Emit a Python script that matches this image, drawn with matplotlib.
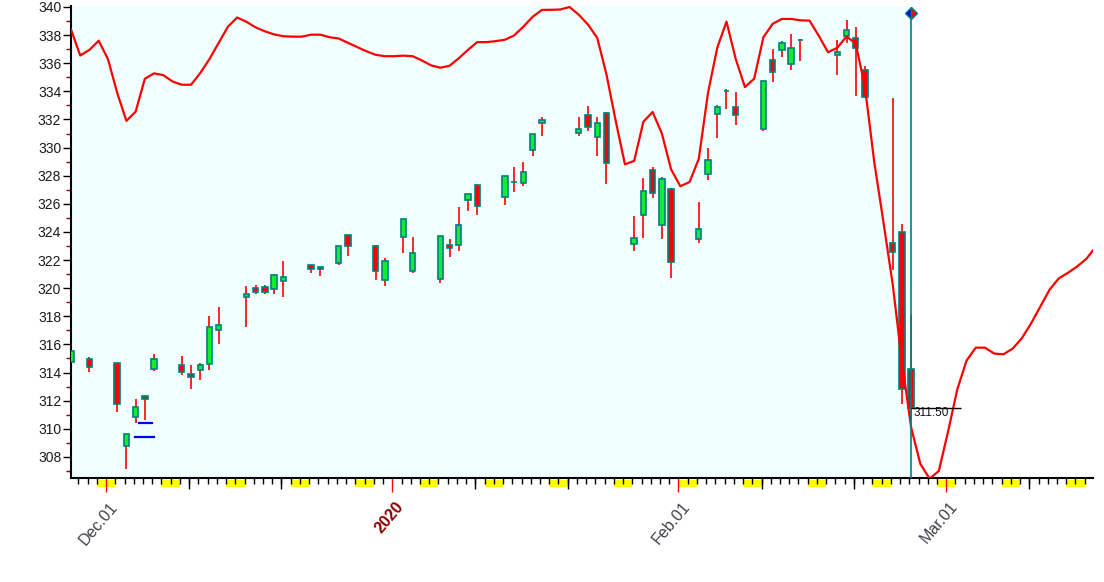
import matplotlib
matplotlib.use("Agg")
import matplotlib.pyplot as plt
import matplotlib.dates as mdates
import matplotlib.transforms as mtransforms
from matplotlib.patches import Rectangle
import pandas as pd

# daily candles
dates = ["2019-11-27", "2019-11-29", "2019-12-02", "2019-12-03", "2019-12-04", "2019-12-05",
         "2019-12-06", "2019-12-09", "2019-12-10", "2019-12-11", "2019-12-12", "2019-12-13",
         "2019-12-16", "2019-12-17", "2019-12-18", "2019-12-19", "2019-12-20", "2019-12-23",
         "2019-12-24", "2019-12-26", "2019-12-27", "2019-12-30", "2019-12-31", "2020-01-02",
         "2020-01-03", "2020-01-06", "2020-01-07", "2020-01-08", "2020-01-09", "2020-01-10",
         "2020-01-13", "2020-01-14", "2020-01-15", "2020-01-16", "2020-01-17", "2020-01-21",
         "2020-01-22", "2020-01-23", "2020-01-24", "2020-01-27", "2020-01-28", "2020-01-29",
         "2020-01-30", "2020-01-31", "2020-02-03", "2020-02-04", "2020-02-05", "2020-02-06",
         "2020-02-07", "2020-02-10", "2020-02-11", "2020-02-12", "2020-02-13", "2020-02-14",
         "2020-02-18", "2020-02-19", "2020-02-20", "2020-02-21", "2020-02-24", "2020-02-25",
         "2020-02-26"]
opens = [314.73, 314.96, 314.66, 308.80, 310.82, 312.33, 314.23, 314.51, 313.87, 314.16, 314.59, 317.00,
         319.35, 319.99, 320.06, 319.92, 320.53, 321.63, 321.49, 321.77, 323.76, 322.98, 320.60, 323.62,
         321.24, 320.63, 323.05, 323.05, 326.25, 327.32, 326.47, 327.53, 327.46, 329.81, 331.77, 331.02,
         332.32, 330.73, 332.44, 323.12, 325.18, 328.38, 324.47, 327.03, 323.48, 328.14, 332.37, 334.00,
         332.87, 331.30, 336.20, 336.92, 335.92, 337.65, 336.56, 337.92, 337.77, 335.50, 323.19, 323.97,
         314.23]
highs = [315.51, 315.10, 314.66, 309.61, 312.10, 312.33, 315.32, 315.18, 314.51, 314.66, 318.02, 318.66,
         320.16, 320.23, 320.23, 321.03, 321.93, 321.63, 321.49, 322.98, 323.76, 323.07, 322.12, 324.90,
         323.64, 323.69, 323.48, 325.78, 326.68, 327.39, 327.96, 328.60, 328.98, 330.94, 332.18, 332.20,
         332.96, 332.15, 332.51, 325.13, 327.84, 328.60, 327.89, 327.10, 326.13, 329.97, 333.03, 334.17,
         333.95, 334.72, 336.99, 337.56, 338.08, 337.70, 337.63, 339.05, 338.56, 335.80, 333.50, 324.57,
         318.09]
lows = [314.42, 314.06, 311.22, 307.16, 310.39, 310.63, 314.13, 313.85, 312.85, 313.49, 314.20, 316.05,
        317.26, 319.56, 319.56, 319.56, 319.40, 321.10, 320.89, 321.65, 322.31, 320.58, 320.18, 322.52,
        321.10, 320.39, 322.24, 322.67, 325.51, 325.23, 325.94, 326.86, 327.29, 329.42, 330.85, 330.85,
        331.20, 329.42, 327.39, 322.67, 323.59, 326.44, 323.50, 320.75, 323.24, 327.72, 330.70, 332.77,
        331.63, 331.20, 334.67, 336.42, 335.54, 336.18, 335.19, 337.46, 333.69, 333.55, 321.30, 311.74,
        310.63]
closes = [315.51, 314.42, 311.74, 309.61, 311.53, 312.14, 314.96, 314.02, 313.66, 314.51, 317.22, 317.36,
          319.56, 319.71, 319.71, 320.94, 320.77, 321.34, 321.34, 322.98, 322.98, 321.20, 321.91, 324.90,
          322.48, 323.69, 322.84, 324.47, 326.68, 325.83, 327.96, 327.53, 328.24, 330.94, 331.94, 331.30,
          331.44, 331.73, 328.88, 323.55, 326.89, 326.75, 327.74, 321.84, 324.18, 329.10, 332.87, 334.00,
          332.30, 334.72, 335.38, 337.42, 337.06, 337.65, 336.78, 338.34, 337.06, 333.58, 322.55, 312.80,
          311.50]

# red indicator line, one value per calendar day starting 2019-11-27
line_start = "2019-11-27"
line_values = [338.40, 336.55, 336.95, 337.60, 336.30, 333.90, 331.90, 332.55, 334.90, 335.28,
               335.15, 334.70, 334.47, 334.47, 335.30, 336.30, 337.45, 338.60, 339.25, 338.95,
               338.55, 338.27, 338.05, 337.92, 337.89, 337.89, 338.03, 338.03, 337.85, 337.76,
               337.45, 337.15, 336.85, 336.60, 336.50, 336.50, 336.54, 336.50, 336.20, 335.85,
               335.68, 335.82, 336.35, 336.95, 337.50, 337.50, 337.57, 337.67, 337.98, 338.60,
               339.30, 339.79, 339.80, 339.82, 340.00, 339.45, 338.75, 337.80, 335.20, 331.90,
               328.81, 329.05, 331.84, 332.53, 331.00, 328.45, 327.25, 327.55, 329.20, 333.90,
               337.10, 338.96, 336.30, 334.30, 334.90, 337.85, 338.80, 339.15, 339.15, 339.05,
               339.03, 337.95, 336.78, 337.10, 337.90, 337.40, 334.30, 329.00, 324.70, 320.30,
               314.80, 310.10, 307.50, 306.45, 307.00, 309.80, 312.80, 314.85, 315.77, 315.77,
               315.35, 315.30, 315.70, 316.45, 317.50, 318.70, 319.90, 320.70, 321.10, 321.55,
               322.10, 322.95]

# short blue marks near early December (start, end, level)
blue_start = ["2019-12-04 13:00", "2019-12-04 04:00"]
blue_end = ["2019-12-06 00:00", "2019-12-06 05:00"]
blue_level = [310.43, 309.44]

month_ticks = ["2019-12-01", "2020-01-01", "2020-02-01", "2020-03-01"]
month_labels = ["Dec.01", "2020", "Feb.01", "Mar.01"]
last_close = 311.50
last_date = "2020-02-26"


def main():
    plt.rcParams["font.family"] = ["Liberation Sans", "DejaVu Sans"]

    df = pd.DataFrame({"date": pd.to_datetime(dates), "open": opens, "high": highs,
                       "low": lows, "close": closes})
    df["x"] = mdates.date2num(df["date"]) + 0.2

    fig = plt.figure(figsize=(11.04, 5.82), dpi=100)
    ax = fig.add_axes([71 / 1104, 1 - 478 / 582, 1022 / 1104, 472 / 582])

    base = mdates.date2num(pd.Timestamp("2019-12-01"))
    ax.set_xlim(base - 3.8, base + 106.9)
    ax.set_ylim(306.5, 340.07)

    cursor = mdates.date2num(pd.Timestamp(last_date)) + 0.2
    ax.axvspan(base - 3.8, cursor, color="#F0FFFF", zorder=0, lw=0)

    # indicator line
    lx = mdates.date2num(pd.date_range(line_start, periods=len(line_values))) + 0.2
    ax.plot(lx, line_values, color="#FF0000", lw=1.6, zorder=4)

    # candles
    w = 0.58
    for _, r in df.iterrows():
        ax.vlines(r.x, r.low, r.high, color="#FF0000", lw=1.2, zorder=2)
        up = r.close >= r.open
        lo = min(r.open, r.close)
        h = max(abs(r.close - r.open), 0.02)
        ax.add_patch(Rectangle((r.x - w / 2, lo), w, h,
                               facecolor="#10EE30" if up else "#FF0000",
                               edgecolor="#008080", lw=1.2, zorder=3))

    for s, e, lv in zip(blue_start, blue_end, blue_level):
        ax.plot(mdates.date2num(pd.to_datetime([s, e])), [lv, lv], color="#0000FF", lw=1.6, zorder=4)

    # cursor line, diamond and last value marker
    ax.vlines(cursor, 306.5, 339.57, color="#008080", lw=1.2, zorder=5)
    ax.plot([cursor], [339.57], marker="D", ms=6.5, fillstyle="left", markerfacecolor="#0000FF",
            markerfacecoloralt="#FF0000", markeredgecolor="#008080", mew=1, zorder=6, clip_on=False)
    ax.hlines(last_close, cursor, cursor + 5.4, color="black", lw=1, zorder=5)
    ax.text(cursor + 0.25, last_close - 0.4, f"{last_close:.2f}", fontsize=8.5, color="#101020",
            ha="left", va="center", zorder=6)

    # y axis
    ax.set_yticks(range(308, 341, 2))
    ax.set_yticks(range(307, 340, 2), minor=True)
    ax.tick_params(axis="y", which="major", length=6, width=1, color="black", labelsize=10,
                   labelcolor="#1a1a1a", pad=1)
    ax.tick_params(axis="y", which="minor", length=3.5, width=1, color="#8B0000")

    # x axis: daily ticks, red month ticks, long ticks on 10th/20th, yellow weekends
    ax.xaxis.set_minor_locator(mdates.DayLocator())
    ax.set_xticks(mdates.date2num(pd.to_datetime(month_ticks)))
    ax.set_xticklabels([])
    ax.tick_params(axis="x", which="minor", length=4, width=1, color="black")
    ax.tick_params(axis="x", which="major", length=10, width=1, color="#FF0000")

    trans = mtransforms.blended_transform_factory(ax.transData, ax.transAxes)
    axh = 472.0
    days = pd.date_range("2019-11-27", "2020-03-17")
    for d in days:
        xd = mdates.date2num(d)
        if d.day in (10, 20):
            ax.vlines(xd, 0, -10.5 / axh, transform=trans, color="black", lw=1, clip_on=False, zorder=3)
        if d.dayofweek == 5:
            ax.add_patch(Rectangle((xd, -9 / axh), 2, 7.5 / axh, transform=trans, facecolor="#FFFF00",
                                   lw=0, clip_on=False, zorder=1))

    for t, lab in zip(month_ticks, month_labels):
        xd = mdates.date2num(pd.Timestamp(t))
        is_year = lab == "2020"
        ax.text(xd + 0.9, -26 / axh, lab, transform=trans, rotation=50, rotation_mode="anchor",
                ha="right", va="center", fontsize=11.5,
                color="#8B0000" if is_year else "#404048",
                fontweight="bold" if is_year else "normal")

    for sp in ["top", "right"]:
        ax.spines[sp].set_visible(False)
    ax.spines["left"].set_linewidth(1.5)
    ax.spines["bottom"].set_linewidth(1.5)
    ax.set_facecolor("white")

    plt.savefig("out.png", dpi=100)


if __name__ == "__main__":
    main()
